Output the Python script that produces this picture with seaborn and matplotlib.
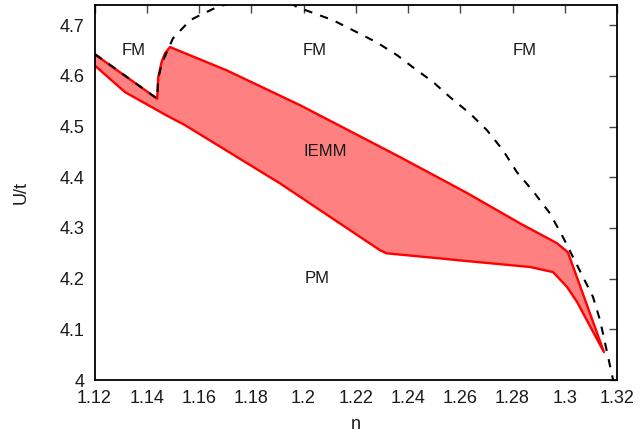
import matplotlib
matplotlib.use("Agg")
import matplotlib.pyplot as plt
import numpy as np
import pandas as pd
import seaborn as sns

# Ferromagnetic (FM) phase boundary, dashed
fm_n = [1.1202, 1.1440, 1.1443, 1.1457, 1.1500, 1.1566, 1.1604, 1.1669, 1.1757,
        1.1860, 1.1940, 1.1975, 1.2113, 1.2190, 1.2281, 1.2358, 1.2419, 1.2496,
        1.2561, 1.2637, 1.2702, 1.2764, 1.2817, 1.2878, 1.2943, 1.2993, 1.3032,
        1.3070, 1.3108, 1.3135, 1.3166, 1.3185]
fm_u = [4.643, 4.555, 4.592, 4.624, 4.674, 4.710, 4.720, 4.736, 4.749,
        4.754, 4.747, 4.736, 4.710, 4.690, 4.666, 4.641, 4.617, 4.588,
        4.558, 4.526, 4.493, 4.453, 4.410, 4.373, 4.329, 4.282, 4.242,
        4.203, 4.164, 4.118, 4.045, 4.000]

# IEMM region: upper edge (left to right)
upper_n = [1.1200, 1.1440, 1.1444, 1.1457, 1.1470, 1.1489, 1.1706, 1.1988,
           1.2369, 1.2626, 1.2829, 1.2970, 1.3012, 1.3150]
upper_u = [4.643, 4.555, 4.598, 4.628, 4.645, 4.657, 4.611, 4.542,
           4.440, 4.369, 4.309, 4.270, 4.252, 4.055]

# IEMM region: lower edge (left to right)
lower_n = [1.1200, 1.1317, 1.1476, 1.1546, 1.1910, 1.2293, 1.2318, 1.2522,
           1.2599, 1.2867, 1.2955, 1.3008, 1.3047, 1.3150]
lower_u = [4.621, 4.568, 4.522, 4.503, 4.388, 4.256, 4.250, 4.240,
           4.236, 4.223, 4.213, 4.184, 4.154, 4.055]

# Phase labels
label_text = ["FM", "FM", "FM", "IEMM", "PM"]
label_n = [1.1348, 1.2044, 1.2848, 1.2084, 1.2051]
label_u = [4.651, 4.651, 4.651, 4.450, 4.201]

x_ticks = [1.12, 1.14, 1.16, 1.18, 1.20, 1.22, 1.24, 1.26, 1.28, 1.30, 1.32]
x_tick_labels = ["1.12", "1.14", "1.16", "1.18", "1.2", "1.22", "1.24",
                 "1.26", "1.28", "1.3", "1.32"]
y_ticks = [4.0, 4.1, 4.2, 4.3, 4.4, 4.5, 4.6, 4.7]
y_tick_labels = ["4", "4.1", "4.2", "4.3", "4.4", "4.5", "4.6", "4.7"]

sns.set_theme(style="white")
plt.rcParams["font.family"] = ["Liberation Sans", "DejaVu Sans"]

fig = plt.figure(figsize=(6.4, 4.43), dpi=100)
ax = fig.add_axes([0.1477, 0.1422, 0.8164, 0.8465])

# closed outline of the IEMM region
poly = pd.DataFrame({
    "n": upper_n + lower_n[::-1],
    "u": upper_u + lower_u[::-1],
})
ax.fill(poly["n"], poly["u"], facecolor="#ff8080", edgecolor="none", zorder=1)
outline = pd.concat([poly, poly.iloc[:1]], ignore_index=True)
sns.lineplot(data=outline, x="n", y="u", sort=False, estimator=None,
             color="#ff0000", lw=1.7, ax=ax, zorder=2)

fm = pd.DataFrame({"n": fm_n, "u": fm_u})
sns.lineplot(data=fm, x="n", y="u", sort=False, estimator=None,
             color="black", lw=1.5, ax=ax, zorder=3)
ax.lines[-1].set_dashes((4, 4))

for t, xn, yu in zip(label_text, label_n, label_u):
    ax.text(xn, yu, t, ha="center", va="center", fontsize=12, color="#1a1a1a")

ax.set_xlim(1.12, 1.32)
ax.set_ylim(4.0, 4.74)
ax.set_xticks(x_ticks)
ax.set_xticklabels(x_tick_labels)
ax.set_yticks(y_ticks)
ax.set_yticklabels(y_tick_labels)
ax.set_xlabel("n", fontsize=13, color="#1a1a1a", labelpad=7)
ax.set_ylabel("U/t", fontsize=13, color="#1a1a1a", labelpad=22)

ax.tick_params(direction="in", length=5.5, width=1.0, color="#444444",
               top=True, right=True, labelsize=13, labelcolor="#1a1a1a", pad=7)
for s in ax.spines.values():
    s.set_visible(True)
    s.set_color("black")
    s.set_linewidth(1.3)

fig.savefig("out.png", dpi=100)
